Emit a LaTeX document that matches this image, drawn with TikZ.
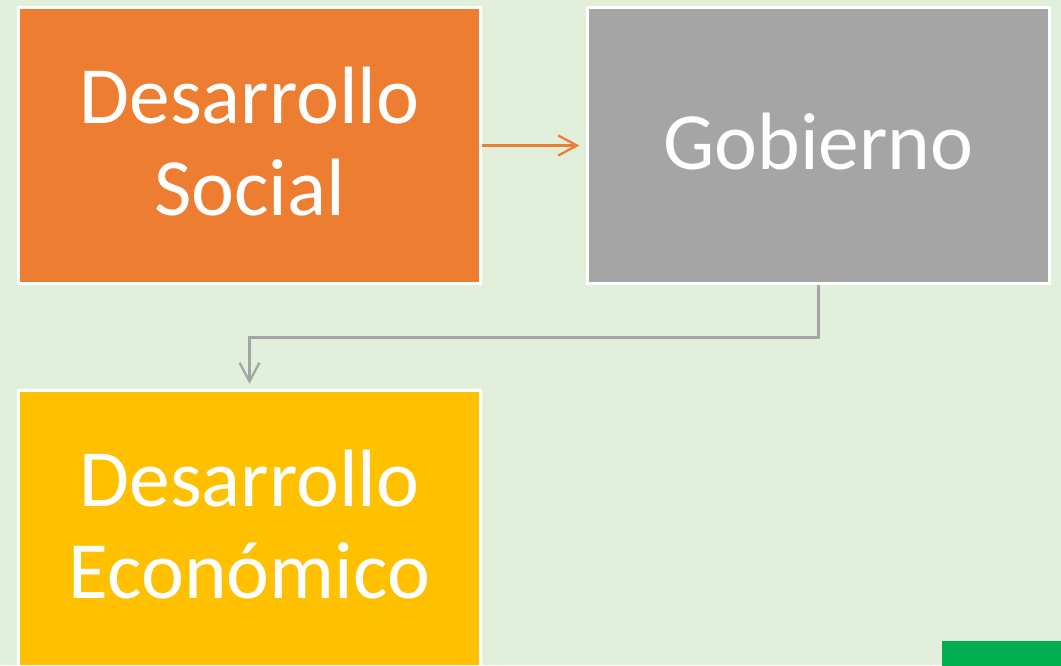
\documentclass[tikz,border=0pt]{standalone}
\usepackage{fontspec}
\setmainfont{Carlito}
\usetikzlibrary{arrows.meta}
\definecolor{bgc}{HTML}{E2EFDA}
\definecolor{orng}{HTML}{ED7D31}
\definecolor{gry}{HTML}{A5A5A5}
\definecolor{yel}{HTML}{FFC000}
\definecolor{grn}{HTML}{00B050}
\newlength{\pxu}
\setlength{\pxu}{0.75pt}
\tikzset{
  box/.style={draw=white, line width=2.2pt, minimum width=462\pxu, minimum height=276\pxu,
    inner sep=0pt},
  boxtext/.style={align=center, text=white, inner sep=0pt, yshift=3.2pt,
    font=\fontsize{61}{69}\selectfont},
  conn/.style={line width=1.7pt, -{Straight Barb[length=14pt,width=15pt,line width=1.7pt]}}
}
\begin{document}
\begin{tikzpicture}[x=0.75pt,y=-0.75pt]
\useasboundingbox (0,0) rectangle (1061,665);
\clip (0,0) rectangle (1061,665);
\fill[bgc] (0,0) rectangle (1061,665);
\node[box, fill=orng] (ds) at (249.5,145.5) {};
\node[boxtext] (dst) at (ds.center) {Desarrollo\\Social};
\node[box, fill=gry] (gob) at (818.5,145.5) {};
\node[boxtext] (gobt) at (gob.center) {Gobierno};
\node[box, fill=yel] (ec) at (249.5,528.5) {};
\node[boxtext] (ect) at (ec.center) {Desarrollo\\Económico};
\fill[grn] (942,641) rectangle (1070,680);
\coordinate (mid) at (0,337.5);
\draw[conn, orng, shorten >=5pt] (ds.east) -- (gob.west);
\draw[conn, gry, shorten >=4pt] (gob.south) -- (gob.south |- mid) -| (ec.north);
\end{tikzpicture}
\end{document}
